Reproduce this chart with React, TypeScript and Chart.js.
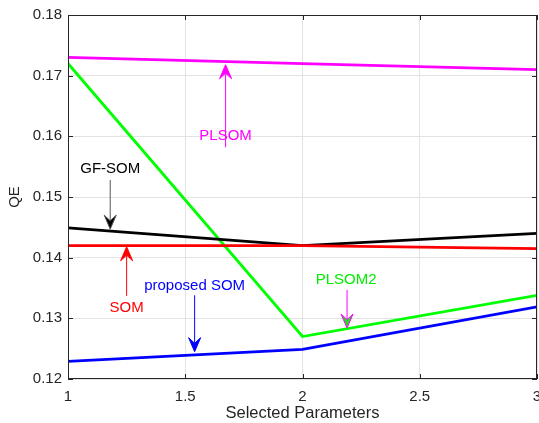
import React, { useEffect, useRef } from "react";
import { Chart, registerables } from "chart.js";

Chart.register(...registerables);

const xValues = [1, 2, 3];
const plsom = [0.173, 0.172, 0.171];
const plsom2 = [0.172, 0.127, 0.1338];
const gfsom = [0.1449, 0.142, 0.144];
const som = [0.142, 0.142, 0.1415];
const proposed = [0.1229, 0.1249, 0.1319];

const xTicks = [1, 1.5, 2, 2.5, 3];
const yTicks = [0.12, 0.13, 0.14, 0.15, 0.16, 0.17, 0.18];

// annotation labels (data coords)
const labelTexts = ["PLSOM", "GF-SOM", "SOM", "proposed SOM", "PLSOM2"];
const labelX = [1.672, 1.18, 1.25, 1.54, 2.186];
const labelY = [0.16, 0.1546, 0.1318, 0.1353, 0.1363];
const labelColors = ["#ff00ff", "#000000", "#ff0000", "#0000ff", "#00ee00"];

// arrows (data coords): x, start y, tip y
const arrowX = [1.672, 1.18, 1.25, 1.54, 2.19];
const arrowY0 = [0.1582, 0.1528, 0.1337, 0.1338, 0.1347];
const arrowY1 = [0.1718, 0.1447, 0.1418, 0.1245, 0.1284];
const arrowShaft = ["#ff00ff", "#555555", "#ff0000", "#0000ff", "#ff00ff"];
const arrowHead = ["#ff00ff", "#000000", "#ff0000", "#0000ff", "#22dd22"];

const FONT = "'Liberation Sans', Arial, Helvetica, sans-serif";

const decorPlugin = {
  id: "decor",
  afterDatasetsDraw(chart: any) {
    const ctx = chart.ctx;
    const xs = chart.scales.x;
    const ys = chart.scales.y;
    const { left, right, top, bottom } = chart.chartArea;
    ctx.save();
    // box
    ctx.strokeStyle = "#262626";
    ctx.lineWidth = 1;
    ctx.strokeRect(left + 0.5, top + 0.5, right - left - 1, bottom - top - 1);
    // inward ticks
    ctx.beginPath();
    xTicks.forEach((v) => {
      const px = Math.round(xs.getPixelForValue(v)) + 0.5;
      ctx.moveTo(px, bottom);
      ctx.lineTo(px, bottom - 5);
      ctx.moveTo(px, top);
      ctx.lineTo(px, top + 5);
    });
    yTicks.forEach((v) => {
      const py = Math.round(ys.getPixelForValue(v)) + 0.5;
      ctx.moveTo(left, py);
      ctx.lineTo(left + 5, py);
      ctx.moveTo(right, py);
      ctx.lineTo(right - 5, py);
    });
    ctx.stroke();

    // arrows
    arrowX.forEach((xv, i) => {
      const px = xs.getPixelForValue(xv);
      const p0 = ys.getPixelForValue(arrowY0[i]);
      const p1 = ys.getPixelForValue(arrowY1[i]);
      const dir = p1 > p0 ? 1 : -1;
      const headLen = 14;
      const headW = 6;
      ctx.strokeStyle = arrowShaft[i];
      ctx.lineWidth = 1;
      ctx.beginPath();
      ctx.moveTo(px, p0);
      ctx.lineTo(px, p1 - dir * headLen * 0.6);
      ctx.stroke();
      ctx.fillStyle = arrowHead[i];
      ctx.strokeStyle = arrowShaft[i];
      ctx.beginPath();
      ctx.moveTo(px, p1);
      ctx.lineTo(px - headW, p1 - dir * headLen);
      ctx.lineTo(px, p1 - dir * headLen * 0.6);
      ctx.lineTo(px + headW, p1 - dir * headLen);
      ctx.closePath();
      ctx.fill();
      ctx.stroke();
    });

    // labels
    ctx.font = `15px ${FONT}`;
    ctx.textAlign = "center";
    ctx.textBaseline = "middle";
    labelTexts.forEach((t, i) => {
      ctx.fillStyle = labelColors[i];
      ctx.fillText(t, xs.getPixelForValue(labelX[i]), ys.getPixelForValue(labelY[i]));
    });

    // axis titles
    ctx.fillStyle = "#262626";
    ctx.save();
    ctx.translate(15, (top + bottom) / 2);
    ctx.rotate(-Math.PI / 2);
    ctx.fillText("QE", 0, 0);
    ctx.restore();
    ctx.font = `16.5px ${FONT}`;
    ctx.fillText("Selected Parameters", (left + right) / 2, 413);
    ctx.restore();
  },
};

export default function App() {
  const ref = useRef<HTMLCanvasElement | null>(null);
  useEffect(() => {
    if (!ref.current) return;
    const mk = (label: string, data: number[], color: string) => ({
      label,
      data: xValues.map((x, i) => ({ x, y: data[i] })),
      borderColor: color,
      backgroundColor: color,
      borderWidth: 2.8,
      pointRadius: 0,
      tension: 0,
      fill: false,
    });
    const chart = new Chart(ref.current, {
      type: "line",
      data: {
        datasets: [
          mk("SOM", som, "#ff0000"),
          mk("GF-SOM", gfsom, "#000000"),
          mk("proposed SOM", proposed, "#0000ff"),
          mk("PLSOM2", plsom2, "#00ff00"),
          mk("PLSOM", plsom, "#ff00ff"),
        ],
      },
      options: {
        animation: false,
        responsive: false,
        layout: { padding: { top: 15, right: 2, left: 0, bottom: 0 } },
        plugins: { legend: { display: false }, tooltip: { enabled: false } },
        scales: {
          x: {
            type: "linear",
            min: 1,
            max: 3,
            afterBuildTicks: (s: any) => {
              s.ticks = xTicks.map((v) => ({ value: v }));
            },
            afterFit: (s: any) => {
              s.height = 44;
              s.paddingLeft = 0;
              s.paddingRight = 0;
            },
            grid: { color: "#e3e3e3", drawTicks: false },
            border: { display: false },
            ticks: {
              padding: 9,
              color: "#262626",
              font: { family: FONT, size: 15 },
              callback: (v: any) => String(v),
            },
          },
          y: {
            type: "linear",
            min: 0.12,
            max: 0.18,
            afterBuildTicks: (s: any) => {
              s.ticks = yTicks.map((v) => ({ value: v }));
            },
            afterFit: (s: any) => {
              s.width = 68;
              s.paddingTop = 0;
              s.paddingBottom = 0;
            },
            grid: { color: "#e3e3e3", drawTicks: false },
            border: { display: false },
            ticks: {
              padding: 6,
              color: "#262626",
              font: { family: FONT, size: 15 },
              callback: (v: any) => Number(v).toFixed(2),
            },
          },
        },
      },
      plugins: [decorPlugin],
    });
    return () => chart.destroy();
  }, []);
  return (
    <div style={{ position: "fixed", left: 0, top: 0, width: 539, height: 423, background: "#fff" }}>
      <canvas ref={ref} width={539} height={423} style={{ display: "block" }} />
    </div>
  );
}
